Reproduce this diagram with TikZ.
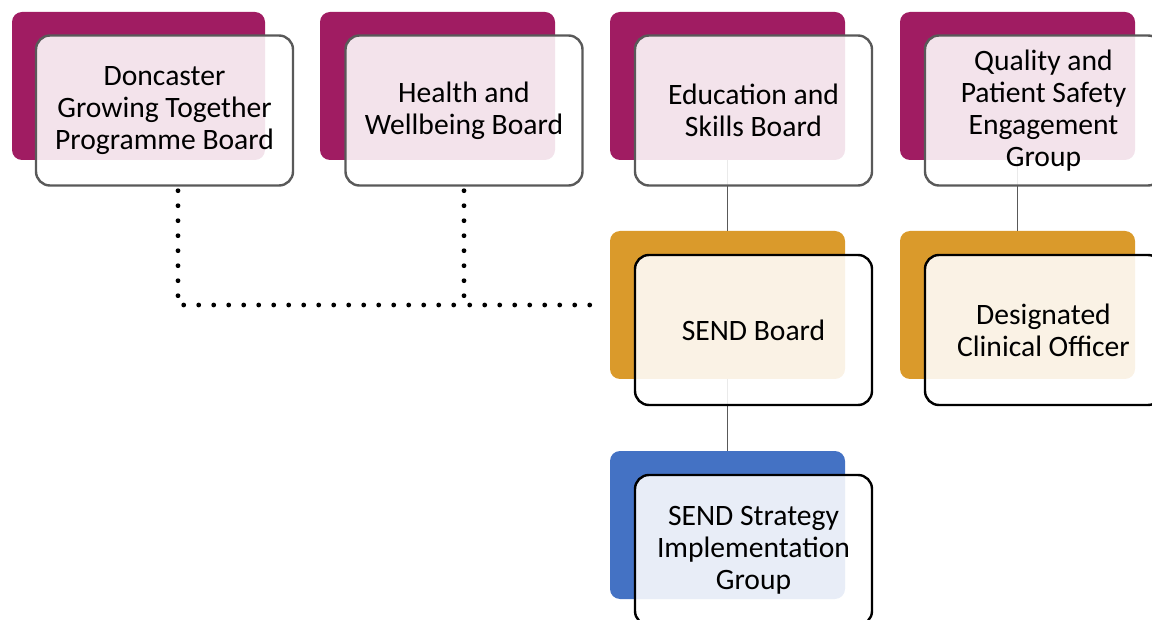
\documentclass[tikz,border=0pt]{standalone}
\usepackage{fontspec}
\setmainfont{Carlito}
\definecolor{plum}{HTML}{A01C62}
\definecolor{amber}{HTML}{DA9A2B}
\definecolor{steel}{HTML}{4472C4}
\definecolor{edgegrey}{HTML}{595959}
\begin{document}
\begin{tikzpicture}[
    x=0.5pt, y=-0.5pt,
    back/.style={rectangle, fill=#1, rounded corners=5pt, inner sep=0pt, minimum width=117.5pt, minimum height=74pt},
    front/.style={rectangle, draw=#1, line width=1.2pt, fill=white, fill opacity=0.88, text opacity=1, rounded corners=7pt, minimum width=118.5pt, minimum height=75pt, align=center, font=\fontsize{14.8}{16}\selectfont},
    link/.style={draw=edgegrey, line width=0.8pt},
    dotline/.style={line width=2.4pt, line cap=round, dash pattern=on 0pt off 7.5pt}
]
    \path[use as bounding box, clip] (0,0) rectangle (1152,620);

    % Coloured backing tiles
    \node[back=plum, minimum width=126.5pt] (dgtBack) at (138.5,86) {};
    \node[back=plum] (hwbBack) at (437.5,86) {};
    \node[back=plum] (eduBack) at (727.5,86) {};
    \node[back=plum] (qpsBack) at (1017.5,86) {};
    \node[back=amber] (sendBack) at (727.5,305) {};
    \node[back=amber] (dcoBack) at (1017.5,305) {};
    \node[back=steel] (sigBack) at (727.5,525) {};

    % Solid links
    \draw[link] (eduBack) -- (sendBack);
    \draw[link] (qpsBack) -- (dcoBack);
    \draw[link] (sendBack) -- (sigBack);

    % Boards and groups
    \node[front=edgegrey, minimum width=128.5pt] (dgt) at (164.5,110.5) {Doncaster\\Growing Together\\Programme Board};
    \node[front=edgegrey] (hwb) at (464,110.5) {Health and\\Wellbeing Board};
    \node[front=edgegrey] (edu) at (753.5,110.5) {Education and\\Skills Board};
    \node[front=edgegrey] (qps) at (1043.5,110.5) {Quality and\\Patient Safety\\Engagement\\Group};
    \node[front=black] (send) at (753.5,330) {SEND Board};
    \node[front=black] (dco) at (1043.5,330) {Designated\\Clinical Officer};
    \node[front=black] (sig) at (753.5,550) {SEND Strategy\\Implementation\\Group};

    % Dotted links
    \coordinate (joinA) at (178,305);
    \draw[dotline, shorten <=2pt] (dgt.south -| joinA) -- (joinA) -- (hwb.south |- joinA);
    \draw[dotline, shorten <=2pt, shorten >=3pt] (hwb.south) -- (hwb.south |- joinA) -- (sendBack.west);
\end{tikzpicture}
\end{document}
